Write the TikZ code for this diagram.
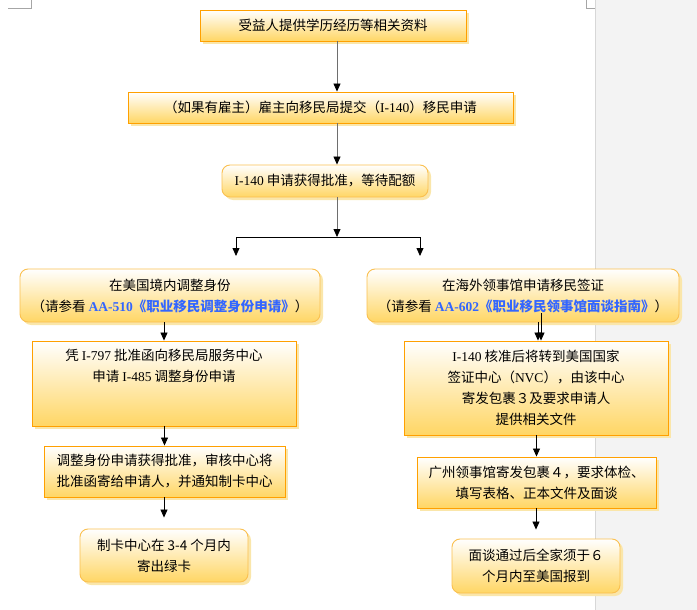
\documentclass[tikz,border=0pt]{standalone}
\usepackage{fontspec}
\setmainfont{Liberation Serif}
\newfontfamily\cjk{Noto Sans CJK SC}
\usetikzlibrary{arrows.meta,positioning,shadows}
\definecolor{boxline}{RGB}{255,160,0}
\definecolor{rndline}{RGB}{250,192,80}
\definecolor{boxlow}{RGB}{255,214,100}
\definecolor{shadowc}{RGB}{250,230,170}
\definecolor{linkblue}{RGB}{51,102,255}
\definecolor{pagegrey}{RGB}{243,243,243}
\definecolor{pageline}{RGB}{215,215,215}
\definecolor{linegrey}{RGB}{110,110,110}
\newcommand{\en}[1]{{\rmfamily #1}}
\newcommand{\refb}[1]{{\bfseries\color{linkblue}#1}}
\tikzset{
  sqbox/.style={
    draw=boxline,
    line width=0.9pt,
    top color=white,
    bottom color=boxlow,
    drop shadow={shadow xshift=3pt, shadow yshift=-3pt, fill=shadowc, opacity=1},
    align=center,
    inner sep=0pt,
    font=\cjk\fontsize{13.5}{21}\selectfont
  },
  rndbox/.style={
    sqbox,
    draw=rndline,
    rounded corners=8pt
  },
  txt/.style={
    align=center,
    inner sep=0pt,
    font=\cjk\fontsize{13.5}{21}\selectfont
  },
  arr/.style={
    -{Triangle[width=7pt,length=8pt,color=black]},
    line width=0.8pt
  },
  cornermark/.style={
    draw=black!35,
    line width=0.8pt
  }
}

\begin{document}
\begin{tikzpicture}[x=1pt,y=-1pt]
    \useasboundingbox (0,0) rectangle (697,610);
    % page edge
    \fill[pagegrey] (595,0) rectangle (697,610);
    \draw[pageline, line width=0.8pt] (595,0) -- (595,610);
    \draw[cornermark] (8,8) -- (31.5,8) -- (31.5,0);
    \draw[cornermark] (586.5,0) -- (586.5,8) -- (595,8);

    \node[sqbox, minimum width=266pt, minimum height=31pt] (b1) at (333,25.5) {受益人提供学历经历等相关资料};
    \node[sqbox, minimum width=385pt, minimum height=31pt] (b2) at (320.5,107.5) {（如果有雇主）雇主向移民局提交（\en{I-140}）移民申请};
    \node[rndbox, minimum width=206pt, minimum height=32pt] (b3) at (325,181) {\en{I-140} 申请获得批准，等待配额};

    % left branch
    \node[rndbox, minimum width=300pt, minimum height=53pt] (b4) at (170,295.5) {在美国境内调整身份\\（请参看 \refb{\en{AA-510}《职业移民调整身份申请》}）};
    \node[sqbox, minimum width=264pt, minimum height=85pt] (b5) at (164,383.5) {};
    \node[txt, below=8pt of b5.north] (t5) {凭 \en{I-797} 批准函向移民局服务中心\\申请 \en{I-485} 调整身份申请};
    \node[sqbox, minimum width=241pt, minimum height=51pt] (b6) at (164.5,471.5) {调整身份申请获得批准，审核中心将\\批准函寄给申请人，并通知制卡中心};
    \node[rndbox, minimum width=168pt, minimum height=53pt] (b7) at (164,555.5) {制卡中心在 3-4 个月内\\寄出绿卡};

    % right branch
    \node[rndbox, minimum width=312pt, minimum height=53pt] (b8) at (523,295.5) {在海外领事馆申请移民签证\\（请参看 \refb{\en{AA-602}《职业移民领事馆面谈指南》}）};
    \node[sqbox, minimum width=264pt, minimum height=94pt] (b9) at (536,388) {\en{I-140} 核准后将转到美国国家\\签证中心（\en{NVC}），由该中心\\寄发包裹３及要求申请人\\提供相关文件};
    \node[sqbox, minimum width=239pt, minimum height=51pt] (b10) at (536.5,482.5) {广州领事馆寄发包裹４，要求体检、\\填写表格、正本文件及面谈};
    \node[rndbox, minimum width=168pt, minimum height=54pt] (b11) at (536,566) {面谈通过后全家须于６\\个月内至美国报到};

    \coordinate (spine) at (337,0);
    \coordinate (fork) at (337,237);
    \coordinate (fl) at (236,237);
    \coordinate (fr) at (420,237);
    \coordinate (tl) at (236,256);
    \coordinate (tr) at (420,256);
    \coordinate (dl) at (538,0);
    \coordinate (dr) at (541,0);
    \coordinate (drtop) at (541,313);

    \draw[arr, draw=linegrey] (b1.south -| spine) -- (b2.north -| spine);
    \draw[arr, draw=linegrey] (b2.south -| spine) -- (b3.north -| spine);
    \draw[arr, draw=linegrey] (b3.south -| spine) -- (fork);
    \draw[line width=0.8pt] (fl) -- (fr);
    \draw[arr] (fl) -- (tl);
    \draw[arr] (fr) -- (tr);

    \draw[arr] (b4.south -| b5) -- (b5.north);
    \draw[arr] (b5.south -| b6) -- (b6.north);
    \draw[arr, shorten >=11pt] (b6.south -| b7) -- (b7.north);

    \draw[arr] (b8.south -| dl) -- (b9.north -| dl);
    \draw[arr] (drtop) -- (b9.north -| dr);
    \draw[arr] (b9.south -| b10) -- (b10.north);
    \draw[arr, shorten >=9pt] (b10.south -| b11) -- (b11.north);
\end{tikzpicture}
\end{document}
